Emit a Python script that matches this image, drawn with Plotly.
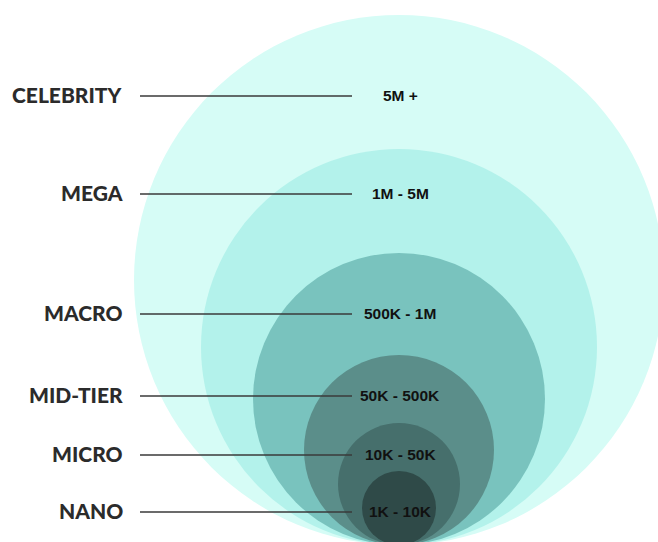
import plotly.graph_objects as go

# Influencer tiers, from the largest audience to the smallest
tiers = ["CELEBRITY", "MEGA", "MACRO", "MID-TIER", "MICRO", "NANO"]
follower_ranges = ["5M +", "1M - 5M", "500K - 1M", "50K - 500K", "10K - 50K", "1K - 10K"]
tier_radius = [265, 198, 146, 95, 61, 37]
label_y = [96, 194, 314, 396, 455, 512]
tier_colors = ["#D6FCF6", "#B3F2EB", "#79C3BE", "#5B8E8A", "#466F6C", "#2F4A48"]

W, H = 658, 542
cx, base_y = 399, 545  # all circles share the same bottom point

fig = go.Figure()

shapes = []
for r, col in zip(tier_radius, tier_colors):
    shapes.append(dict(
        type="circle", xref="x", yref="y",
        x0=cx - r, x1=cx + r, y0=base_y - 2 * r, y1=base_y,
        fillcolor=col, line=dict(width=0), layer="below",
    ))

# leader lines from the tier name towards the range text
for y in label_y:
    fig.add_trace(go.Scatter(
        x=[140, 352], y=[y, y], mode="lines",
        line=dict(color="#3a3a3a", width=1.4),
        hoverinfo="skip", showlegend=False,
    ))

annotations = []
for name, rng, y in zip(tiers, follower_ranges, label_y):
    annotations.append(dict(
        x=125, y=y - 1.5, xref="x", yref="y", text=name, showarrow=False,
        xanchor="right", yanchor="middle",
        font=dict(family="Lato", size=21, color="#2b2b2b", weight=900),
    ))
    annotations.append(dict(
        x=cx + 1, y=y - 0.5, xref="x", yref="y", text=rng, showarrow=False,
        xanchor="center", yanchor="middle",
        font=dict(family="Liberation Sans", size=15.5, color="#111111", weight="bold"),
    ))

fig.update_layout(
    width=W, height=H,
    margin=dict(l=0, r=0, t=0, b=0),
    paper_bgcolor="white", plot_bgcolor="white",
    shapes=shapes, annotations=annotations,
    xaxis=dict(range=[0, W], visible=False, fixedrange=True),
    yaxis=dict(range=[H, 0], visible=False, fixedrange=True),
    showlegend=False,
)

fig.write_html("out.html")
